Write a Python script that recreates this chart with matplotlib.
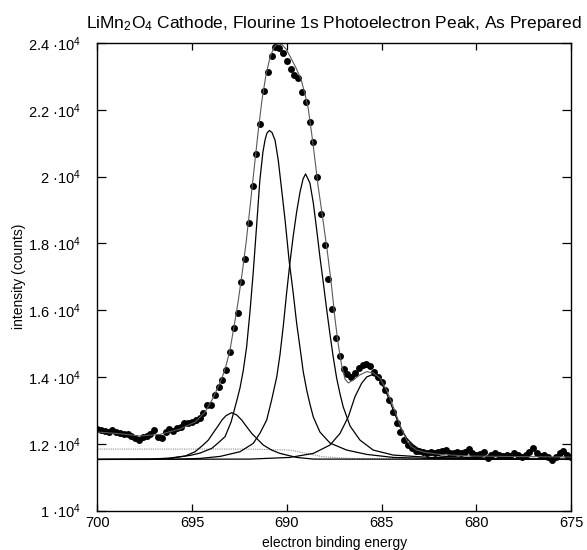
import matplotlib
matplotlib.use("Agg")
import matplotlib.pyplot as plt
from matplotlib.ticker import FixedLocator, FixedFormatter

plt.rcParams['font.family'] = ['Liberation Sans', 'DejaVu Sans']
plt.rcParams['mathtext.fontset'] = 'custom'
plt.rcParams['mathtext.rm'] = 'Liberation Sans'
plt.rcParams['mathtext.it'] = 'Liberation Sans:italic'

# measured points (binding energy in eV, counts)
energy = [
    700.0, 699.8, 699.6, 699.4, 699.2, 699.0, 698.8, 698.6, 698.4, 698.2,
    698.0, 697.8, 697.6, 697.4, 697.2, 697.0, 696.8, 696.6, 696.4, 696.2,
    696.0, 695.8, 695.6, 695.4, 695.2, 695.0, 694.8, 694.6, 694.4, 694.2,
    694.0, 693.8, 693.6, 693.4, 693.2, 693.0, 692.8, 692.6, 692.4, 692.2,
    692.0, 691.8, 691.6, 691.4, 691.2, 691.0, 690.8, 690.6, 690.4, 690.2,
    690.0, 689.8, 689.6, 689.4, 689.2, 689.0, 688.8, 688.6, 688.4, 688.2,
    688.0, 687.8, 687.6, 687.4, 687.2, 687.0, 686.8, 686.6, 686.4, 686.2,
    686.0, 685.8, 685.6, 685.4, 685.2, 685.0, 684.8, 684.6, 684.4, 684.2,
    684.0, 683.8, 683.6, 683.4, 683.2, 683.0, 682.8, 682.6, 682.4, 682.2,
    682.0, 681.8, 681.6, 681.4, 681.2, 681.0, 680.8, 680.6, 680.4, 680.2,
    680.0, 679.8, 679.6, 679.4, 679.2, 679.0, 678.8, 678.6, 678.4, 678.2,
    678.0, 677.8, 677.6, 677.4, 677.2, 677.0, 676.8, 676.6, 676.4, 676.2,
    676.0, 675.8, 675.6, 675.4, 675.2, 675.0,
]
counts = [
    12440, 12400, 12380, 12360, 12410, 12350, 12330, 12300, 12280, 12220,
    12160, 12110, 12210, 12240, 12280, 12410, 12210, 12180, 12360, 12430,
    12390, 12460, 12490, 12630, 12610, 12660, 12710, 12760, 12910, 13160,
    13160, 13460, 13710, 13910, 14210, 14750, 15460, 15920, 16830, 17530,
    18620, 19720, 20670, 21560, 22570, 23120, 23600, 23890, 23840, 23690,
    23470, 23220, 23040, 22940, 22520, 22220, 21620, 21040, 19990, 18890,
    17950, 16920, 16020, 15160, 14630, 14240, 14090, 14010, 14120, 14270,
    14360, 14390, 14330, 14160, 14010, 13840, 13610, 13310, 12950, 12620,
    12350, 12110, 11950, 11870, 11780, 11770, 11740, 11710, 11750, 11710,
    11750, 11780, 11800, 11720, 11710, 11740, 11710, 11750, 11840, 11710,
    11660, 11680, 11750, 11580, 11660, 11710, 11660, 11620, 11660, 11640,
    11710, 11660, 11610, 11660, 11760, 11860, 11710, 11640, 11660, 11610,
    11500, 11610, 11710, 11770, 11660, 11610,
]

# fitted envelope
fit_e = [700.0, 698.80, 697.75, 696.69, 695.64, 694.84, 694.31, 693.89, 693.63, 693.42,
         693.21, 693.00, 692.79, 692.58, 692.37, 692.15, 691.94, 691.73, 691.52, 691.31,
         691.10, 690.88, 690.67, 690.46, 690.25, 690.04, 689.78, 689.51, 689.25, 689.04,
         688.87, 688.64, 688.34, 688.09, 687.85, 687.63, 687.46, 687.28, 687.10, 686.93,
         686.75, 686.49, 686.14, 685.78, 685.44, 685.09, 684.73, 684.38, 684.12, 683.92,
         683.67, 683.45, 683.15, 682.71, 681.92, 680.33, 675.0]
fit_c = [12350, 12300, 12230, 12280, 12440, 12650, 12950, 13370, 13700, 13970,
         14330, 14800, 15490, 16210, 17050, 18010, 19090, 20200, 21300, 22290,
         23040, 23580, 23880, 23980, 23950, 23820, 23550, 23250, 22920, 22470,
         22050, 21090, 19690, 18700, 17710, 16690, 15760, 14960, 14330, 13940,
         13820, 13910, 14060, 14160, 14120, 13970, 13610, 13110, 12710, 12410,
         12110, 11930, 11810, 11740, 11680, 11630, 11600]

# component peaks
peak_a_e = [700.0, 697.2, 696.2, 695.1, 694.58, 693.96, 693.63, 693.26, 692.94, 692.63,
            692.47, 692.30, 692.12, 691.94, 691.77, 691.59, 691.42, 691.26, 691.15, 691.05,
            690.92, 690.78, 690.62, 690.45, 690.27, 690.09, 689.88, 689.66, 689.48, 689.30,
            689.13, 688.95, 688.78, 688.60, 688.25, 687.72, 686.84, 685.78, 684.38, 682.44, 675.0]
peak_a_c = [11530, 11540, 11570, 11650, 11720, 11860, 12020, 12210, 12650, 13310,
            13670, 14180, 14900, 15970, 17140, 18550, 19900, 20730, 21090, 21300,
            21380, 21320, 21090, 20490, 19600, 18700, 17500, 16510, 15610, 14870,
            14150, 13610, 13190, 12800, 12350, 12020, 11810, 11680, 11590, 11560, 11530]

peak_b_e = [700.0, 695.64, 694.58, 693.52, 692.47, 691.77, 691.42, 691.06, 690.80, 690.53,
            690.36, 690.18, 690.01, 689.83, 689.66, 689.48, 689.30, 689.14, 689.01, 688.78,
            688.60, 688.42, 688.25, 688.07, 687.89, 687.72, 687.55, 687.37, 687.19, 687.02,
            686.66, 686.14, 685.44, 684.38, 682.44, 679.80, 675.0]
peak_b_c = [11530, 11540, 11560, 11620, 11760, 12010, 12310, 12710, 13310, 14000,
            14660, 15550, 16510, 17440, 18220, 18940, 19540, 19930, 20080, 19810,
            19210, 18400, 17590, 16810, 16000, 15280, 14600, 13970, 13490, 13100,
            12530, 12110, 11810, 11660, 11590, 11560, 11530]

peak_c_e = [700.0, 697.2, 696.16, 695.37, 694.84, 694.42, 694.14, 693.89, 693.63, 693.42,
            693.21, 692.91, 692.64, 692.38, 692.12, 691.85, 691.59, 691.24, 690.80, 690.36,
            689.48, 688.60, 675.0]
peak_c_c = [11530, 11530, 11560, 11630, 11760, 11960, 12110, 12320, 12530, 12710,
            12840, 12930, 12860, 12710, 12510, 12310, 12160, 11960, 11810, 11710,
            11590, 11540, 11530]

peak_d_e = [700.0, 691.94, 689.83, 688.60, 687.72, 687.19, 686.75, 686.40, 686.05, 685.78,
            685.52, 685.29, 685.09, 684.73, 684.38, 684.03, 683.67, 683.32, 682.80, 681.92,
            680.17, 677.69, 675.0]
peak_d_c = [11530, 11540, 11590, 11710, 11960, 12310, 12810, 13410, 13810, 14000,
            14060, 14010, 13910, 13510, 13010, 12510, 12160, 11960, 11760, 11630,
            11580, 11540, 11530]

# background
bg_e = [700.0, 691.94, 689.83, 688.09, 686.67, 675.0]
bg_c = [11840, 11840, 11810, 11610, 11560, 11550]

ytick_vals = [10000, 12000, 14000, 16000, 18000, 20000, 22000, 24000]
ytick_text = ['1', '1.2', '1.4', '1.6', '1.8', '2', '2.2', '2.4']
xtick_vals = [700, 695, 690, 685, 680, 675]

fig = plt.figure(figsize=(5.87, 5.5), dpi=100)
ax = fig.add_axes([0.1658, 0.0718, 0.8069, 0.85])

ax.plot(bg_e, bg_c, color='0.55', lw=0.8, ls=(0, (1, 1)))
for pe, pc in [(peak_a_e, peak_a_c), (peak_b_e, peak_b_c),
               (peak_c_e, peak_c_c), (peak_d_e, peak_d_c)]:
    ax.plot(pe, pc, color='black', lw=0.9)
ax.plot(energy, counts, 'o', color='black', markersize=5, markeredgewidth=0)
ax.plot(fit_e, fit_c, color='0.35', lw=0.8)

ax.set_xlim(700, 675)
ax.set_ylim(10000, 24000)
ax.xaxis.set_major_locator(FixedLocator(xtick_vals))
ax.yaxis.set_major_locator(FixedLocator(ytick_vals))
ax.yaxis.set_major_formatter(FixedFormatter([t + ' \u00b710$^{4}$' for t in ytick_text]))

ax.tick_params(direction='in', top=True, right=True, labelsize=10.5, width=0.9, color='black')
ax.tick_params(axis='x', length=5, pad=4)
ax.tick_params(axis='y', length=6.5, pad=12)
for s in ax.spines.values():
    s.set_linewidth(1.0)

ax.set_title('LiMn$_2$O$_4$ Cathode, Flourine 1s Photoelectron Peak, As Prepared', fontsize=12.5, pad=11)
ax.set_xlabel('electron binding energy', fontsize=10, labelpad=4)
ax.set_ylabel('intensity (counts)', fontsize=10, labelpad=1)

fig.savefig('out.png', dpi=100)
